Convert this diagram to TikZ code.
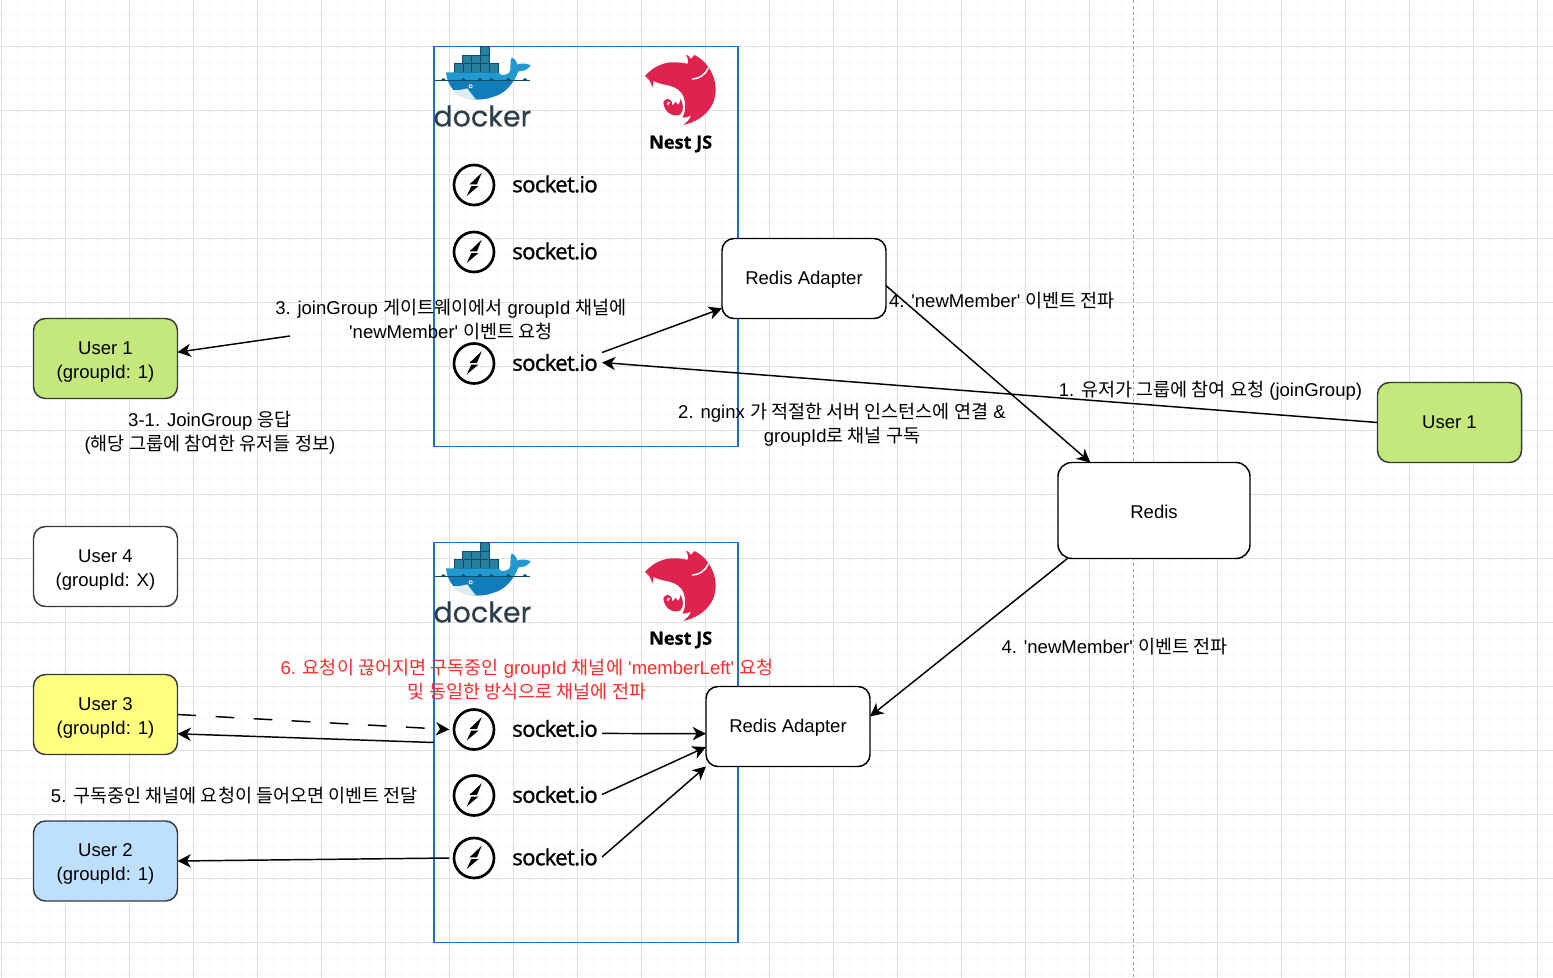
\documentclass[tikz,border=0pt]{standalone}
\usepackage{fontspec}
\usetikzlibrary{arrows.meta,positioning}
\newfontfamily\labelfont{Liberation Sans}
\newfontfamily\cjk{Noto Sans CJK KR}
\newfontfamily\sockfont[FakeBold=1.2,LetterSpace=-3]{Open Sans}
\newfontfamily\nestfont[BoldFeatures={FakeBold=0.6}]{Open Sans}
\newfontfamily\dockfont[FakeBold=0.3]{Poppins}
\newcommand{\ko}[1]{{\cjk #1}}
\definecolor{usergreen}{RGB}{197,232,124}
\definecolor{useryellow}{RGB}{255,255,128}
\definecolor{userblue}{RGB}{191,223,255}
\definecolor{userline}{RGB}{54,57,61}
\definecolor{serverline}{RGB}{28,110,208}
\definecolor{nestred}{RGB}{224,35,78}
\definecolor{labelred}{RGB}{255,45,45}
\definecolor{crate}{RGB}{38,128,160}
\definecolor{crateline}{RGB}{13,74,99}
\definecolor{hull}{RGB}{34,152,208}
\definecolor{hulldark}{RGB}{14,125,185}
\definecolor{dockink}{RGB}{45,62,74}
\tikzset{
  usertext/.style={font=\labelfont\fontsize{13.9}{18}\selectfont,align=center},
  userbox/.style={usertext,draw=userline,line width=1.1pt,rounded corners=9pt,minimum width=108pt,minimum height=60pt,inner sep=0pt,outer sep=0pt},
  twoline/.style={execute at begin node={\rule{0pt}{32.5pt}}},
  adapterbox/.style={usertext,draw=black,fill=white,line width=1.1pt,rounded corners=9pt,minimum width=123pt,minimum height=60pt,inner sep=0pt,outer sep=0pt,execute at begin node={\rule{0pt}{12.5pt}}},
  redisbox/.style={adapterbox,rounded corners=10.5pt,minimum width=144pt,minimum height=72pt,execute at begin node={}},
  serverbox/.style={draw=serverline,line width=1.3pt,minimum width=228pt,minimum height=300pt,inner sep=0pt,outer sep=0pt},
  sockicon/.style={circle,draw=black,line width=2pt,minimum size=30pt,inner sep=0pt,outer sep=3.5pt,
    path picture={\fill[black,shift={(path picture bounding box.center)}] (7.7,-12.3) -- (-4.4,-.7) -- (3,-.7) -- cycle (-7.3,11) -- (-2.6,1) -- (4.6,1) -- cycle;}},
  socktext/.style={font=\sockfont\fontsize{16.6}{18}\selectfont,minimum width=70.5pt,minimum height=19.5pt,inner sep=0pt,outer sep=0pt,yshift=.75pt},
  steplabel/.style={usertext,inner sep=0pt,execute at begin node={\rule{0pt}{13pt}}},
  flow/.style={->,line width=1.1pt},
  dashflow/.style={flow,dash pattern=on 14pt off 14.6pt},
  dockerlogo/.pic={
    \begin{scope}[x=.25pt,y=-.25pt]
      \foreach \cx in {72,98.6,125.2,151.8,178.4} \filldraw[fill=crate,draw=crateline,line width=.5pt] (\cx,70) rectangle ++(26.6,27);
      \foreach \cx in {97,124,151} \filldraw[fill=crate,draw=crateline,line width=.5pt] (\cx,45) rectangle ++(27,25);
      \filldraw[fill=crate,draw=crateline,line width=.5pt] (151,20) rectangle (178,45);
      \fill[hull] (48,97) -- (205,97) .. controls (212,108) and (225,108) .. (238,98) .. controls (245,85) and (238,65) .. (245,52) .. controls (255,58) and (262,65) .. (262,74) .. controls (275,68) and (290,70) .. (302,76) .. controls (295,88) and (280,95) .. (265,94) .. controls (255,125) and (225,160) .. (190,170) .. controls (150,185) and (100,180) .. (75,155) .. controls (58,138) and (50,118) .. (48,97) -- cycle;
      \fill[hulldark] (55,122) -- (250,122) .. controls (235,150) and (210,165) .. (190,170) .. controls (150,185) and (100,180) .. (75,155) .. controls (65,145) and (58,132) .. (55,122) -- cycle;
      \fill[white!85!crate] (68,150) .. controls (85,152) and (100,148) .. (112,145) .. controls (120,155) and (128,168) .. (138,178) .. controls (110,180) and (85,170) .. (68,150) -- cycle;
      \fill[white] (122,139) circle (6);
      \fill[crateline] (122,139) circle (3);
      \draw[crateline,line width=.4pt] (15,120) -- (300,120);
      \foreach \wx in {40,100,150,185,235,285} \fill[crateline] (\wx-7,120) -- (\wx,114) -- (\wx+7,120) -- cycle;
      \node[font=\dockfont\fontsize{21.4}{22}\selectfont,text=dockink,inner sep=0pt] (Docker_Word) at (157,228) {docker};
    \end{scope}
  },
  nestlogo/.pic={
    \begin{scope}[x=.25pt,y=-.25pt]
      \fill[nestred] (30,93) .. controls (48,72) and (80,50) .. (120,52) .. controls (135,52) and (148,55) .. (158,56) .. controls (162,48) and (158,38) .. (152,28) .. controls (160,32) and (165,36) .. (168,42) .. controls (172,38) and (175,34) .. (178,30) .. controls (212,45) and (240,85) .. (242,130) .. controls (244,180) and (210,225) .. (145,240) .. controls (155,232) and (165,222) .. (168,212) .. controls (160,216) and (152,218) .. (142,218) .. controls (150,205) and (152,190) .. (150,172) .. controls (148,150) and (135,135) .. (120,128) .. controls (100,118) and (78,120) .. (56,108) .. controls (54,115) and (54,120) .. (52,127) .. controls (48,112) and (42,102) .. (30,93) -- cycle;
      \fill[nestred] (85,172) .. controls (88,160) and (105,158) .. (110,170) .. controls (112,176) and (112,178) .. (112,182) .. controls (118,178) and (120,172) .. (122,170) .. controls (125,176) and (128,178) .. (130,180) .. controls (134,176) and (135,168) .. (136,162) .. controls (145,175) and (148,195) .. (136,208) .. controls (118,218) and (88,205) .. (85,172) -- cycle;
      \fill[white] (96,176) .. controls (98,168) and (104,168) .. (106,174) .. controls (102,172) and (100,174) .. (100,182) -- cycle;
      \draw[white,line width=1.2pt] (220,68) .. controls (210,90) and (195,100) .. (172,102);
      \node[font=\nestfont\bfseries\fontsize{13.6}{14}\selectfont,inner sep=0pt] (Nest_Word) at (137,297) {Nest JS};
    \end{scope}
  }
}
\begin{document}
\begin{tikzpicture}[x=.75pt,y=-.75pt,on grid,node distance=60.75pt,>={Stealth[length=10pt,width=10pt,inset=3pt]}]
   \useasboundingbox (0,0) rectangle (1553,978);
   \fill[white] (0,0) rectangle (1553,978);
   % page grid
   \foreach \gx in {1.3,17.3,...,1553} \draw[black!4,line width=.75pt] (\gx,0) -- (\gx,978);
   \foreach \gy in {14.3,30.3,...,978} \draw[black!4,line width=.75pt] (0,\gy) -- (1553,\gy);
   \foreach \gx in {1.3,65.3,...,1553} \draw[black!12,line width=.75pt] (\gx,0) -- (\gx,978);
   \foreach \gy in {46.3,110.3,...,978} \draw[black!12,line width=.75pt] (0,\gy) -- (1553,\gy);
   \draw[black!35,line width=.5pt,dash pattern=on 2.2pt off 2.2pt] (1133.5,0) -- (1133.5,978);

   \node [serverbox] (Server_A) at (586,246.5) {};
   \node [serverbox] (Server_B) at (586,742.5) {};
   \pic at (430,40) {dockerlogo};
   \pic at (635,45) {nestlogo};
   \pic at (430,536) {dockerlogo};
   \pic at (635,541) {nestlogo};

   \node [sockicon] (Icon_A1) at (474,185) {};
   \node [sockicon] (Icon_A2) at (474,252) {};
   \node [sockicon] (Icon_A3) at (474,363.5) {};
   \node [socktext] (Sock_A1) [right= of Icon_A1] {socket.io};
   \node [socktext] (Sock_A2) [right= of Icon_A2] {socket.io};
   \node [socktext] (Sock_A3) [right= of Icon_A3] {socket.io};
   \node [sockicon] (Icon_B1) at (474,729.5) {};
   \node [sockicon] (Icon_B2) at (474,795.5) {};
   \node [sockicon] (Icon_B3) at (474,858) {};
   \node [socktext] (Sock_B1) [right= of Icon_B1] {socket.io};
   \node [socktext] (Sock_B2) [right= of Icon_B2] {socket.io};
   \node [socktext] (Sock_B3) [right= of Icon_B3] {socket.io};

   \node [userbox,twoline,fill=usergreen] (User_1) at (105.5,358.5) {User 1\\(groupId: 1)};
   \node [userbox,twoline,fill=white] (User_4) at (105.5,566.5) {User 4\\(groupId: X)};
   \node [userbox,twoline,fill=useryellow] (User_3) at (105.5,714.5) {User 3\\(groupId: 1)};
   \node [userbox,twoline,fill=userblue] (User_2) at (105.5,861) {User 2\\(groupId: 1)};
   \node [userbox,fill=usergreen] (User_R) at (1449.5,422.5) {User 1};
   \node [adapterbox] (Adapter_A) at (804,278.5) {Redis Adapter};
   \node [adapterbox] (Adapter_B) at (788,726.5) {Redis Adapter};
   \node [redisbox] (Redis) at (1154,510.5) {Redis};

   \node [steplabel] (Step_1) at (1210.5,390) {1. \ko{유저가 그룹에 참여 요청} (joinGroup)};
   \node [steplabel] (Step_2) at (842,425) {2. nginx \ko{가 적절한 서버 인스턴스에 연결} \&\\groupId\ko{로 채널 구독}};
   \node [steplabel] (Step_3) at (451,320) {3. joinGroup \ko{게이트웨이에서} groupId \ko{채널에}\\'newMember' \ko{이벤트 요청}};
   \node [steplabel] (Step_31) at (210,433) {3-1. JoinGroup \ko{응답}\\(\ko{해당 그룹에 참여한 유저들 정보})};
   \node [steplabel] (Step_4A) at (1002,300) {4. 'newMember' \ko{이벤트 전파}};
   \node [steplabel] (Step_4B) at (1114.5,646) {4. 'newMember' \ko{이벤트 전파}};
   \node [steplabel] (Step_5) at (234.5,795) {5. \ko{구독중인 채널에 요청이 들어오면 이벤트 전달}};
   \node [steplabel,text=labelred] (Step_6) at (527,680) {6. \ko{요청이 끊어지면 구독중인} groupId \ko{채널에} 'memberLeft' \ko{요청}\\\ko{및 동일한 방식으로 채널에 전파}};

   \coordinate (Reply_From) at (290,336);
   \draw [flow] (User_R.west) -- (Sock_A3.east);
   \draw [flow] (Sock_A3.12) -- (Adapter_A.200);
   \draw [flow] (Reply_From) -- (User_1.5);
   \draw [flow] (Adapter_A.-5.6) -- (Redis.143.8);
   \draw [flow] (Redis.209.4) -- (Adapter_B.7);
   \draw [flow] (Sock_B1.-6.7) -- (Adapter_B.185.2);
   \draw [flow] (Sock_B2.east) -- (Adapter_B.194.4);
   \draw [flow] (Sock_B3.east) -- (Adapter_B.south west);
   \draw [dashflow] (User_3.east) -- (Icon_B1.west);
   \draw [flow] (Server_B.west) -- (User_3.-15.8);
   \draw [flow] (Icon_B3.west) -- (User_2.east);
\end{tikzpicture}
\end{document}
